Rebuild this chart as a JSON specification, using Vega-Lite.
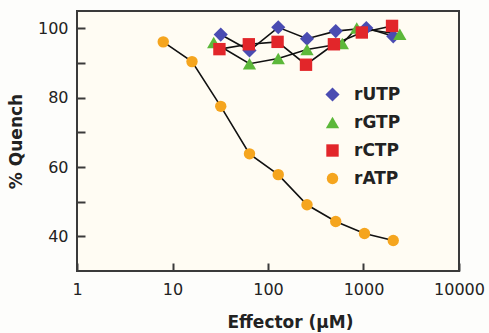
{
  "$schema": "https://vega.github.io/schema/vega-lite/v6.json",
  "width": 382,
  "height": 260,
  "autosize": {"type": "none"},
  "padding": {"left": 77, "top": 11, "right": 30, "bottom": 62},
  "background": "#fdfdfb",
  "config": {
    "view": {"fill": "#fffcf3", "stroke": "#3a3a3a", "strokeWidth": 2},
    "font": "DejaVu Sans"
  },
  "data": {
    "values": [
      {"series": "rATP", "x": 8, "y": 96.1},
      {"series": "rATP", "x": 16, "y": 90.4},
      {"series": "rATP", "x": 32, "y": 77.5},
      {"series": "rATP", "x": 64, "y": 63.8},
      {"series": "rATP", "x": 128, "y": 57.8},
      {"series": "rATP", "x": 256, "y": 49.1},
      {"series": "rATP", "x": 512, "y": 44.3},
      {"series": "rATP", "x": 1024, "y": 40.8},
      {"series": "rATP", "x": 2048, "y": 38.8},
      {"series": "rUTP", "x": 32, "y": 98.2},
      {"series": "rUTP", "x": 64, "y": 93.6},
      {"series": "rUTP", "x": 128, "y": 100.3},
      {"series": "rUTP", "x": 256, "y": 97.0},
      {"series": "rUTP", "x": 512, "y": 99.2},
      {"series": "rUTP", "x": 1070, "y": 100.1},
      {"series": "rUTP", "x": 2048, "y": 97.7},
      {"series": "rGTP", "x": 27, "y": 95.9},
      {"series": "rGTP", "x": 64, "y": 89.8},
      {"series": "rGTP", "x": 128, "y": 91.3},
      {"series": "rGTP", "x": 256, "y": 93.9},
      {"series": "rGTP", "x": 600, "y": 95.6},
      {"series": "rGTP", "x": 850, "y": 100.1},
      {"series": "rGTP", "x": 2400, "y": 98.3},
      {"series": "rCTP", "x": 31, "y": 94.0},
      {"series": "rCTP", "x": 63, "y": 95.4},
      {"series": "rCTP", "x": 126, "y": 96.1},
      {"series": "rCTP", "x": 250, "y": 89.5},
      {"series": "rCTP", "x": 490, "y": 95.4},
      {"series": "rCTP", "x": 960, "y": 98.8},
      {"series": "rCTP", "x": 1990, "y": 100.7}
    ]
  },
  "encoding": {
    "x": {
      "field": "x", "type": "quantitative",
      "scale": {"type": "log", "domain": [1, 10000], "nice": false},
      "axis": {
        "title": "Effector (μM)",
        "values": [1, 10, 100, 1000, 10000],
        "format": "d", "zindex": 1, "offset": -8,
        "grid": false, "domain": false,
        "tickSize": 8, "tickWidth": 2, "tickColor": "#3a3a3a",
        "labelPadding": 10, "labelFontSize": 16, "labelColor": "#222",
        "labelFlush": false,
        "titleFontSize": 17, "titleFontWeight": "bold", "titleColor": "#222",
        "titleX": 213, "titleY": 59, "titleBaseline": "middle"
      }
    },
    "y": {
      "field": "y", "type": "quantitative",
      "scale": {"domain": [30, 105], "nice": false, "zero": false},
      "axis": {
        "title": "% Quench", "zindex": 1, "offset": -8,
        "values": [40, 50, 60, 70, 80, 90, 100],
        "labelExpr": "datum.value % 20 == 0 ? datum.label : ''",
        "grid": false, "domain": false,
        "tickSize": 8, "tickWidth": 2, "tickColor": "#3a3a3a",
        "labelPadding": 9, "labelFontSize": 16, "labelColor": "#222",
        "titleFontSize": 17, "titleFontWeight": "bold", "titleColor": "#222",
        "titlePadding": 12
      }
    }
  },
  "layer": [
    {
      "mark": {"type": "line", "color": "#111", "strokeWidth": 1.6},
      "encoding": {"detail": {"field": "series"}}
    },
    {
      "mark": {"type": "point", "filled": true, "opacity": 1},
      "encoding": {
        "shape": {
          "field": "series", "type": "nominal",
          "scale": {"domain": ["rUTP", "rGTP", "rCTP", "rATP"], "range": ["diamond", "triangle-up", "square", "circle"]},
          "legend": {
            "title": null, "orient": "none", "legendX": 247, "legendY": 75,
            "padding": 0, "labelFontSize": 17, "labelFontWeight": "bold",
            "labelColor": "#222", "labelOffset": 13, "rowPadding": 10, "symbolStrokeWidth": 0
          }
        },
        "color": {
          "field": "series", "type": "nominal",
          "scale": {"domain": ["rUTP", "rGTP", "rCTP", "rATP"], "range": ["#4a4cb2", "#5cb83a", "#e2262a", "#f5a51e"]}
        },
        "size": {
          "field": "series", "type": "nominal",
          "scale": {"domain": ["rUTP", "rGTP", "rCTP", "rATP"], "range": [200, 130, 110, 110]}
        }
      }
    }
  ]
}
